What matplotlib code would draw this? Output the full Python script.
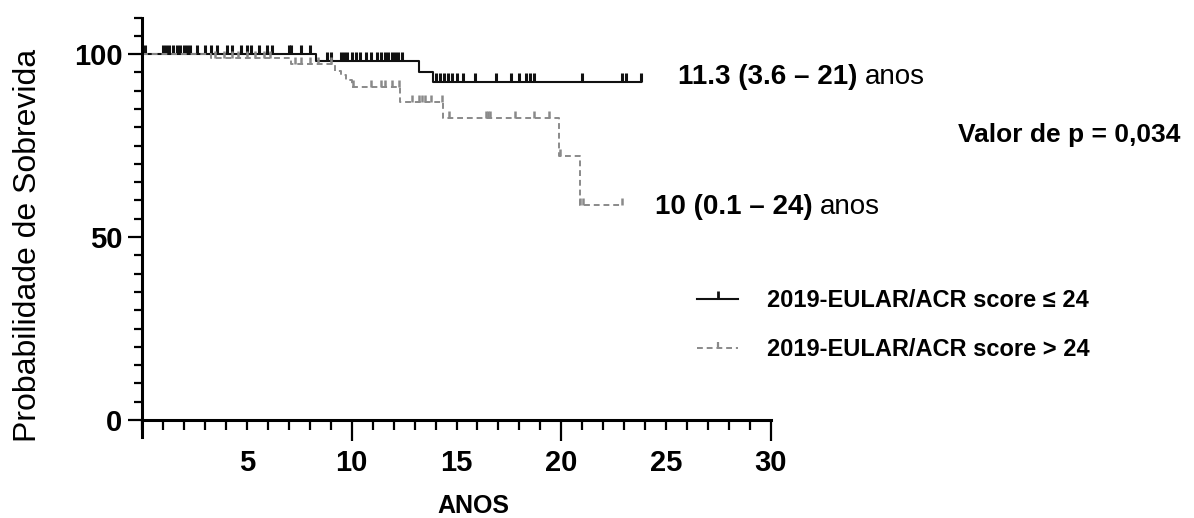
import numpy as np
import matplotlib.pyplot as plt
from matplotlib.path import Path
from matplotlib.lines import Line2D
from matplotlib.ticker import MultipleLocator

plt.rcParams['font.family'] = ['Liberation Sans', 'DejaVu Sans']

# curva de sobrevida - score <= 24
t_baixo = [0, 8.3, 13.2, 13.9, 23.8]
s_baixo = [100, 98.2, 95.2, 92.3, 92.3]
c_baixo = [0.15, 1.0, 1.15, 1.3, 1.5, 1.65, 1.8, 2.0, 2.15, 2.3, 2.6, 3.0, 3.3, 3.6,
           4.05, 4.3, 4.7, 5.0, 5.2, 5.6, 5.95, 6.2, 7.0, 7.1, 7.6, 8.0, 8.8, 9.0,
           9.5, 9.65, 9.8, 10.0, 10.2, 10.4, 10.7, 10.9, 11.2, 11.4, 11.6, 11.75,
           11.9, 12.05, 12.2, 12.4, 14.0, 14.2, 14.4, 14.6, 14.8, 15.0, 15.3, 15.9,
           16.9, 17.6, 18.0, 18.3, 18.5, 18.7, 21.0, 22.9, 23.1, 23.8]

# curva de sobrevida - score > 24
t_alto = [0, 3.3, 7.1, 9.2, 9.5, 9.75, 10.0, 12.3, 14.35, 19.9, 20.9, 22.9]
s_alto = [100, 98.9, 97.3, 95.4, 94.3, 92.9, 91.1, 87.0, 82.5, 72.1, 58.7, 58.7]
c_alto = [3.5, 3.9, 4.3, 4.6, 5.0, 5.4, 5.8, 6.1, 7.3, 7.6, 8.0, 8.4, 9.0, 10.05,
          10.9, 11.4, 11.6, 11.9, 12.25, 12.9, 13.2, 13.35, 13.5, 13.8, 14.3, 14.65,
          16.4, 16.5, 16.6, 17.8, 18.7, 19.4, 19.95, 20.9, 21.05, 22.9]

rotulos = ['2019-EULAR/ACR score ≤ 24', '2019-EULAR/ACR score > 24']
mediana_baixo = '11.3 (3.6 – 21)'
mediana_alto = '10 (0.1 – 24)'
texto_p = 'Valor de p = 0,034'

preto = '#111111'
cinza = '#8a8a8a'
tick = Path([(0, 0), (0, 1)], [Path.MOVETO, Path.LINETO])


def valor_em(t, tempos, surv):
    i = np.searchsorted(tempos, t, side='right') - 1
    return np.array(surv)[i]


fig = plt.figure(figsize=(11.94, 5.18), dpi=100)
ax = fig.add_axes([142/1194, 1-436.5/518, 629/1194, 419/518])

ax.step(t_baixo, s_baixo, where='post', color=preto, lw=1.5)
ax.plot(c_baixo, valor_em(c_baixo, t_baixo, s_baixo), ls='none', marker=tick,
        ms=13, mec=preto, mew=2.2)
ax.step(t_alto, s_alto, where='post', color=cinza, lw=1.4, dashes=(3, 2))
ax.plot(c_alto, valor_em(c_alto, t_alto, s_alto), ls='none', marker=tick,
        ms=10, mec=cinza, mew=1.8)

ax.set_xlim(0, 30)
ax.set_ylim(-4.5, 110)
for s in ['top', 'right']:
    ax.spines[s].set_visible(False)
ax.spines['bottom'].set_position(('data', 0))
for s in ['left', 'bottom']:
    ax.spines[s].set_linewidth(2.2)

ax.set_xticks([5, 10, 15, 20, 25, 30])
ax.xaxis.set_minor_locator(MultipleLocator(1))
ax.set_yticks([0, 50, 100])
ax.yaxis.set_minor_locator(MultipleLocator(5))
ax.tick_params(axis='x', which='major', length=7, width=1.6, pad=14, labelsize=21)
ax.tick_params(axis='x', which='minor', length=7, width=1.6)
ax.tick_params(axis='y', which='major', length=10, width=1.6, pad=4, labelsize=21)
ax.tick_params(axis='y', which='minor', length=6, width=1.6)
for lab in ax.get_xticklabels() + ax.get_yticklabels():
    lab.set_fontweight('bold')
for tk, pos in zip(ax.xaxis.get_major_ticks(), [5, 10, 15, 20, 25, 30]):
    if pos % 10 == 0:
        tk.tick1line.set_markersize(15)

fig.text(28/1194, 1-245/518, 'Probabilidade de Sobrevida', rotation=90,
         ha='center', va='center', fontsize=23)
fig.text(473/1194, 1-506/518, 'ANOS', ha='center', va='center',
         fontsize=18, fontweight='bold')

# medianas e valor de p
r = fig.canvas.get_renderer()
t1 = fig.text(678/1194, 1-77/518, mediana_baixo + ' ', ha='left', va='center',
              fontsize=20, fontweight='bold')
bb = t1.get_window_extent(r)
fig.text(bb.x1/1194, 1-77/518, 'anos', ha='left', va='center', fontsize=20)
t2 = fig.text(655/1194, 1-207/518, mediana_alto + ' ', ha='left', va='center',
              fontsize=20, fontweight='bold')
bb = t2.get_window_extent(r)
fig.text(bb.x1/1194, 1-207/518, 'anos', ha='left', va='center', fontsize=20)
fig.text(958/1194, 1-135/518, texto_p, ha='left', va='center',
         fontsize=19, fontweight='bold')

handles = [Line2D([0], [0], color=preto, lw=1.5, marker=tick, ms=12, mec=preto, mew=2),
           Line2D([0], [0], color=cinza, lw=1.4, dashes=(3, 2), marker=tick, ms=9,
                  mec=cinza, mew=1.6)]
fig.legend(handles, rotulos, loc='upper left', bbox_to_anchor=(697/1194, 1-289/518),
           frameon=False, borderpad=0, borderaxespad=0, handlelength=1.75,
           handletextpad=1.2, labelspacing=1.1, numpoints=1,
           prop={'size': 17, 'weight': 'bold'})

fig.savefig('out.png', dpi=100)
